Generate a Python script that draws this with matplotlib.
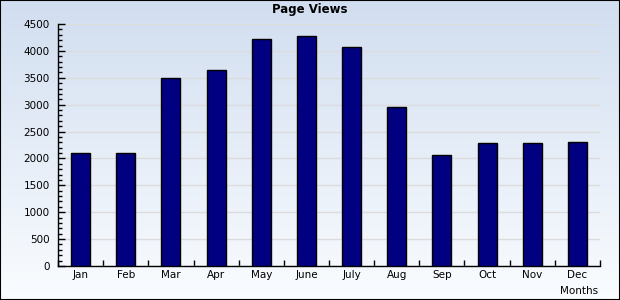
import numpy as np
import matplotlib.pyplot as plt
from matplotlib.ticker import MultipleLocator, FixedLocator

months = ["Jan", "Feb", "Mar", "Apr", "May", "June", "July", "Aug", "Sep", "Oct", "Nov", "Dec"]
page_views = [2100, 2100, 3500, 3650, 4220, 4280, 4070, 2960, 2060, 2290, 2290, 2310]

fig = plt.figure(figsize=(6.2, 3.0), dpi=100)

# background gradient over the whole figure
bg = fig.add_axes([0, 0, 1, 1], zorder=0)
grad = np.linspace(0, 1, 256).reshape(-1, 1)
top = np.array([0.82, 0.87, 0.94])
bottom = np.array([0.98, 0.99, 1.0])
img = top + (bottom - top) * grad[:, :, None]
bg.imshow(img, aspect="auto", extent=[0, 1, 0, 1])
bg.set_axis_off()

ax = fig.add_axes([58 / 620, 34 / 300, 542 / 620, 242 / 300], zorder=1)
ax.patch.set_alpha(0)
x = np.arange(len(months))
ax.bar(x, page_views, width=0.42, color="#000080", edgecolor="black", linewidth=1, zorder=3)

ax.set_xlim(-0.5, len(months) - 0.5)
ax.set_ylim(0, 4500)
ax.yaxis.set_major_locator(MultipleLocator(500))
ax.yaxis.set_minor_locator(MultipleLocator(100))
ax.grid(axis="y", color="#dcdcdc", linewidth=1, zorder=0)

ax.set_xticks(x)
ax.set_xticklabels(months)
ax.xaxis.set_minor_locator(FixedLocator(np.arange(-0.5, len(months), 1.0)))
ax.tick_params(axis="x", which="major", length=0, labelsize=7.5, pad=3)
ax.tick_params(axis="x", which="minor", direction="in", length=4, width=1)
ax.tick_params(axis="y", which="major", direction="in", length=5, width=1, labelsize=7.5, pad=6)
ax.tick_params(axis="y", which="minor", direction="in", length=3, width=1)

for side in ["top", "right"]:
    ax.spines[side].set_visible(False)
for side in ["left", "bottom"]:
    ax.spines[side].set_linewidth(1)

fig.text(0.5, 1 - 10 / 300, "Page Views", ha="center", va="center", fontsize=8.5, fontweight="bold")
fig.text(598 / 620, 1 - 291 / 300, "Months", ha="right", va="center", fontsize=7.5)

# black frame around the picture
frame = plt.Rectangle((0, 0), 1, 1, transform=fig.transFigure, fill=False,
                      edgecolor="black", linewidth=1.5, zorder=10)
fig.patches.append(frame)

fig.savefig("out.png", dpi=100)
